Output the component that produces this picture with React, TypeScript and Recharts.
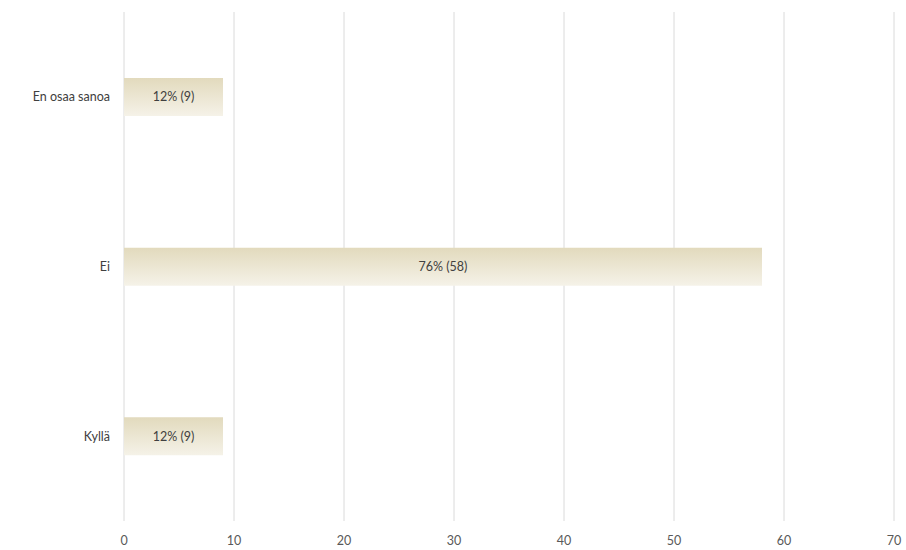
import React from 'react';
import { BarChart, Bar, XAxis, YAxis, CartesianGrid, LabelList } from 'recharts';

const categories = ['En osaa sanoa', 'Ei', 'Kyllä'];
const counts = [9, 58, 9];
const xTicks = [0, 10, 20, 30, 40, 50, 60, 70];

const total = counts.reduce((s, v) => s + v, 0);
const data = categories.map((name, i) => ({ name, value: counts[i] }));

const FONT = 'Lato, sans-serif';

const App: React.FC = () => {
    return (
        <div style={{ position: 'absolute', left: 0, top: 0, width: 906, height: 550, background: '#fff' }}>
            <BarChart
                width={906}
                height={550}
                data={data}
                layout="vertical"
                margin={{ top: 12, right: 12, left: 0, bottom: 0 }}
            >
                <defs>
                    <linearGradient id="barFill" x1="0" y1="0" x2="0" y2="1">
                        <stop offset="0%" stopColor="#e2dabd" />
                        <stop offset="100%" stopColor="#f5f2e8" />
                    </linearGradient>
                </defs>
                <CartesianGrid horizontal={false} stroke="#dadada" />
                <XAxis
                    type="number"
                    domain={[0, 70]}
                    ticks={xTicks}
                    axisLine={false}
                    tickLine={false}
                    height={29}
                    tick={{ fill: '#595959', fontSize: 12.5, fontFamily: FONT }}
                    tickMargin={9}
                />
                <YAxis
                    type="category"
                    dataKey="name"
                    width={124}
                    axisLine={false}
                    tickLine={false}
                    tick={{ fill: '#404040', fontSize: 12.5, fontFamily: FONT }}
                    tickMargin={8}
                />
                <Bar dataKey="value" fill="url(#barFill)" barSize={38} isAnimationActive={false}>
                    <LabelList
                        dataKey="value"
                        position="center"
                        formatter={(v: number) => `${Math.round((v / total) * 100)}% (${v})`}
                        style={{ fill: '#404040', fontSize: 12.5, fontFamily: FONT }}
                    />
                </Bar>
            </BarChart>
        </div>
    );
};

export default App;
